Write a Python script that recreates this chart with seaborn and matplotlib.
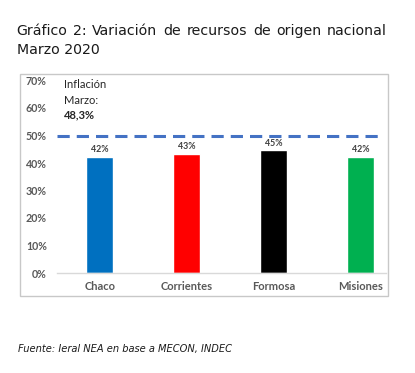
import matplotlib
matplotlib.use("Agg")
import matplotlib.pyplot as plt
import seaborn as sns
import pandas as pd
from matplotlib.patches import Rectangle

# ---- data ----
provincias = ["Chaco", "Corrientes", "Formosa", "Misiones"]
variacion = [42.3, 43.3, 44.6, 42.3]
etiquetas = ["42%", "43%", "45%", "42%"]
colores = ["#0070C0", "#FF0000", "#000000", "#00B050"]
inflacion_linea = 49.7
yticks = [0, 10, 20, 30, 40, 50, 60, 70]
ytick_labels = ["0%", "10%", "20%", "30%", "40%", "50%", "60%", "70%"]
titulo_l1 = ["Gráfico", "2:", "Variación", "de", "recursos", "de", "origen", "nacional"]
titulo_l2 = "Marzo 2020"
fuente = "Fuente: Ieral NEA en base a MECON, INDEC"

sns.set_theme(style="white")
plt.rcParams["font.family"] = ["Lato", "DejaVu Sans"]

W, H = 415, 373
fig = plt.figure(figsize=(W / 100, H / 100), dpi=100)
fig.patch.set_facecolor("white")

def fx(px):
    return px / W

def fy(py):
    return 1 - py / H

# chart box
fig.add_artist(Rectangle((fx(20), fy(295.5)), fx(387.5) - fx(20), fy(74) - fy(295.5),
                         transform=fig.transFigure, fill=False, edgecolor="#C8C8C8", lw=1.0))

ax = fig.add_axes([fx(56.5), fy(273), fx(386) - fx(56.5), fy(80.5) - fy(273)])
ax.set_facecolor("none")

df = pd.DataFrame({"provincia": provincias, "variacion": variacion})
sns.barplot(data=df, x="provincia", y="variacion", hue="provincia",
            palette=colores, width=0.31, saturation=1, legend=False, ax=ax)

ax.set_xlim(-0.5, 3.29)
ax.set_ylim(0, 70)
ax.set_yticks(yticks)
ax.set_yticklabels(ytick_labels)
ax.set_xlabel("")
ax.set_ylabel("")
for s in ["top", "right", "left"]:
    ax.spines[s].set_visible(False)
ax.spines["bottom"].set_color("#D9D9D9")
ax.spines["bottom"].set_linewidth(1.0)
ax.tick_params(axis="both", length=0)
ax.tick_params(axis="y", pad=7)
ax.tick_params(axis="x", pad=6)
for lab in ax.get_yticklabels():
    lab.set_fontsize(7.7)
    lab.set_fontweight("bold")
    lab.set_color("#595959")
for lab in ax.get_xticklabels():
    lab.set_fontsize(8)
    lab.set_fontweight("bold")
    lab.set_color("#595959")

# inflation dashed line
ax.axhline(inflacion_linea, color="#4472C4", lw=2.2, dashes=(4, 2.3), xmin=0, xmax=0.995)

# bar value labels
for p, lab in zip(ax.patches, etiquetas):
    ax.annotate(lab, (p.get_x() + p.get_width() / 2, p.get_height()),
                xytext=(0, 1.8), textcoords="offset points", ha="center", va="bottom",
                fontsize=6.4, fontweight="bold", color="#404040")

# inflation text
fig.text(fx(64), fy(85), "Inflación", fontsize=8, color="#262626", va="center", ha="left")
fig.text(fx(64), fy(100), "Marzo:", fontsize=8, color="#262626", va="center", ha="left")
fig.text(fx(64), fy(115), "48,3%", fontsize=8, color="#262626", va="center", ha="left",
         fontweight="bold")

# title: line 1 justified between x=16.5 and x=387 px
renderer = fig.canvas.get_renderer()
tfs = 10.2
words = []
for w in titulo_l1:
    t = fig.text(0, fy(31), w, fontsize=tfs, family="DejaVu Sans", color="#1a1a1a",
                 va="center", ha="left")
    words.append(t)
widths = [t.get_window_extent(renderer).width for t in words]
x0, x1 = 16.5, 387
gap = (x1 - x0 - sum(widths)) / (len(words) - 1)
cx = x0
for t, wd in zip(words, widths):
    t.set_x(fx(cx))
    cx += wd + gap
fig.text(fx(16.5), fy(50), titulo_l2, fontsize=tfs, family="DejaVu Sans", color="#1a1a1a",
         va="center", ha="left")

# source
fig.text(fx(18), fy(349), fuente, fontsize=7.1, family="DejaVu Sans", style="italic",
         color="#1a1a1a", va="center", ha="left")

fig.savefig("out.png", dpi=100, facecolor="white")
